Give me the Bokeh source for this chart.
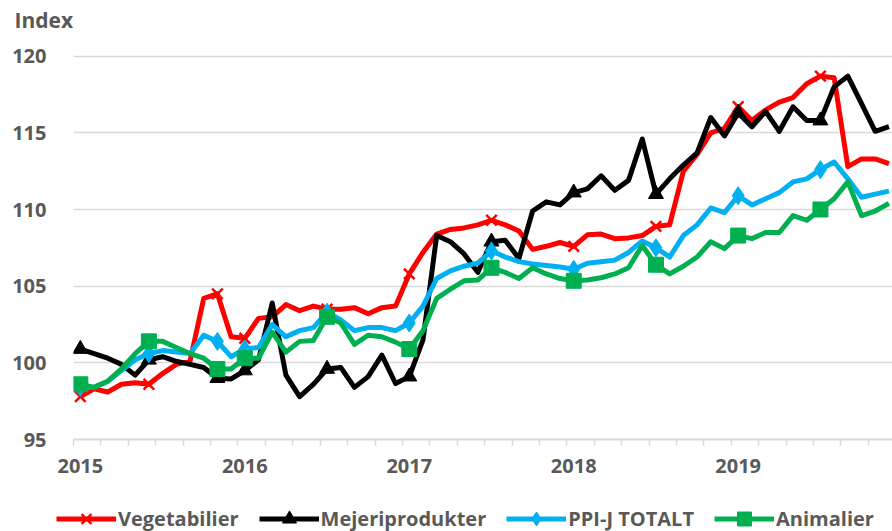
import numpy as np
from bokeh.plotting import figure
from bokeh.layouts import column
from bokeh.models import FixedTicker, Legend, LegendItem, Range1d
from bokeh.embed import file_html
from bokeh.resources import INLINE

# ---- data (monthly index, Jan 2015 .. Dec 2019) ----
years = ["2015", "2016", "2017", "2018", "2019"]

vegetabilier = [97.8, 98.3, 98.1, 98.6, 98.7, 98.6, 99.3, 99.9, 100.1, 104.2, 104.5, 101.7,
                101.6, 102.9, 103.0, 103.8, 103.4, 103.7, 103.5, 103.5, 103.6, 103.2, 103.6, 103.7,
                105.8, 107.2, 108.4, 108.7, 108.8, 109.0, 109.3, 109.0, 108.6, 107.4, 107.6, 107.85,
                107.6, 108.35, 108.4, 108.1, 108.15, 108.3, 108.9, 109.0, 112.5, 113.6, 115.0, 115.3,
                116.7, 115.8, 116.5, 117.0, 117.3, 118.2, 118.7, 118.6, 112.8, 113.3, 113.3, 113.0]

mejeriprodukter = [100.9, 100.6, 100.3, 99.9, 99.2, 100.2, 100.4, 100.1, 99.9, 99.7, 99.0, 98.95,
                   99.5, 100.2, 103.9, 99.2, 97.8, 98.6, 99.6, 99.7, 98.4, 99.1, 100.5, 98.65,
                   99.1, 101.5, 108.3, 107.9, 107.1, 105.9, 107.9, 108.0, 106.8, 109.9, 110.5, 110.3,
                   111.1, 111.35, 112.2, 111.25, 111.9, 114.6, 111.0, 112.0, 112.9, 113.7, 116.0, 114.8,
                   116.3, 115.4, 116.4, 115.1, 116.7, 115.8, 115.8, 118.0, 118.7, 116.9, 115.1, 115.4]

ppi_j_totalt = [98.4, 98.4, 98.8, 99.5, 100.2, 100.6, 100.8, 100.7, 100.6, 101.8, 101.4, 100.4,
                100.9, 101.0, 102.5, 101.7, 102.1, 102.3, 103.3, 102.8, 102.1, 102.3, 102.3, 102.1,
                102.6, 103.7, 105.5, 106.0, 106.3, 106.5, 107.3, 106.9, 106.6, 106.45, 106.35, 106.25,
                106.1, 106.5, 106.6, 106.7, 107.2, 107.95, 107.5, 106.9, 108.3, 109.0, 110.1, 109.8,
                110.9, 110.3, 110.7, 111.1, 111.8, 112.0, 112.6, 113.1, 112.0, 110.8, 111.0, 111.2]

animalier = [98.6, 98.4, 98.8, 99.6, 100.6, 101.4, 101.4, 101.0, 100.6, 100.3, 99.6, 99.6,
             100.3, 100.3, 102.0, 100.7, 101.4, 101.45, 103.0, 102.6, 101.2, 101.8, 101.7, 101.35,
             100.9, 102.1, 104.2, 104.8, 105.35, 105.4, 106.2, 105.9, 105.5, 106.2, 105.8, 105.5,
             105.35, 105.4, 105.55, 105.8, 106.2, 107.65, 106.4, 105.8, 106.3, 106.9, 107.9, 107.45,
             108.3, 108.1, 108.5, 108.5, 109.6, 109.3, 110.0, 110.7, 111.8, 109.6, 109.9, 110.4]

marker_months = [0, 5, 10, 12, 18, 24, 30, 36, 42, 48, 54]
y_ticks = [95, 100, 105, 110, 115, 120]

n = len(vegetabilier)
month = list(range(n))

FONT = "Open Sans"
GREY = "#595959"
GRIDC = "#D9D9D9"

p = figure(width=892, height=490, output_backend="svg", toolbar_location=None,
           x_range=Range1d(-0.5, 59.26), y_range=Range1d(95, 121.48),
           min_border_left=73, min_border_right=0, min_border_top=33, min_border_bottom=51,
           title="Index")
p.outline_line_color = None
p.title.text_font = FONT
p.title.text_font_size = "21px"
p.title.text_font_style = "bold"
p.title.text_color = GREY
p.title.align = "left"
p.title.offset = -59
p.title.standoff = 0

# y axis
p.yaxis.ticker = FixedTicker(ticks=y_ticks)
p.yaxis.axis_line_color = None
p.yaxis.major_tick_line_color = None
p.yaxis.minor_tick_line_color = None
p.yaxis.major_label_text_font = FONT
p.yaxis.major_label_text_font_size = "20px"
p.yaxis.major_label_text_font_style = "bold"
p.yaxis.major_label_text_color = GREY
p.yaxis.major_label_standoff = 21
p.ygrid.ticker = FixedTicker(ticks=y_ticks)
p.ygrid.grid_line_color = GRIDC
p.ygrid.grid_line_width = 1.5
p.xgrid.grid_line_color = None

# x axis
year_pos = [12 * k for k in range(len(years))]
p.xaxis.ticker = FixedTicker(ticks=year_pos, minor_ticks=[-0.5 + 2 * k for k in range(31)])
p.xaxis.major_label_overrides = {pos: lab for pos, lab in zip(year_pos, years)}
p.xaxis.major_tick_line_color = None
p.xaxis.major_tick_out = 0
p.xaxis.major_tick_in = 0
p.xaxis.minor_tick_out = 6
p.xaxis.minor_tick_in = 0
p.xaxis.minor_tick_line_color = GRIDC
p.xaxis.minor_tick_line_width = 1.5
p.xaxis.axis_line_color = GRIDC
p.xaxis.axis_line_width = 2
p.xaxis.major_label_text_font = FONT
p.xaxis.major_label_text_font_size = "20px"
p.xaxis.major_label_text_font_style = "bold"
p.xaxis.major_label_text_color = GREY
p.xaxis.major_label_standoff = 13

series = [
    ("Vegetabilier", vegetabilier, "#FF0000", "x"),
    ("Mejeriprodukter", mejeriprodukter, "#000000", "triangle"),
    ("PPI-J TOTALT", ppi_j_totalt, "#00B0F0", "diamond"),
    ("Animalier", animalier, "#00B050", "square"),
]


def draw(fig, xs, vals, col, mk):
    lr = fig.line(xs, vals, line_color=col, line_width=5, line_join="round")
    mx = [xs[i] for i in marker_months]
    my = [vals[i] for i in marker_months]
    if mk == "x":
        sr = fig.scatter(mx, my, marker="x", size=15, line_color=col, line_width=2.5)
    elif mk == "diamond":
        sr = fig.scatter(mx, my, marker="diamond", size=18, fill_color=col, line_color=col)
    else:
        sr = fig.scatter(mx, my, marker=mk, size=15, fill_color=col, line_color=col)
    return lr, sr


for name, vals, col, mk in series:
    draw(p, month, vals, col, mk)

# ---- legend strip: same series, drawn outside its (unused) visible ranges ----
q = figure(width=892, height=41, output_backend="svg", toolbar_location=None,
           x_range=Range1d(0, 1), y_range=Range1d(0, 1),
           x_axis_type=None, y_axis_type=None, min_border=0)
q.outline_line_color = None
q.grid.visible = False

leg_x = -17
if "frame_align" in q.properties():
    try:
        q.frame_align = False
        leg_x = 56
    except Exception:
        leg_x = -17

items = []
for name, vals, col, mk in series:
    lr, sr = draw(q, month, vals, col, mk)
    items.append(LegendItem(label=name, renderers=[lr, sr]))

legend = Legend(items=items, orientation="horizontal", location=(leg_x, -5),
                glyph_width=60, glyph_height=35, label_standoff=2, spacing=20,
                label_text_font=FONT, label_text_font_size="20px",
                label_text_font_style="bold", label_text_color=GREY,
                border_line_color=None, background_fill_alpha=0, padding=0, margin=0)
q.add_layout(legend, "center")

layout = column(p, q, spacing=0)
open("out.html", "w").write(file_html(layout, INLINE))
